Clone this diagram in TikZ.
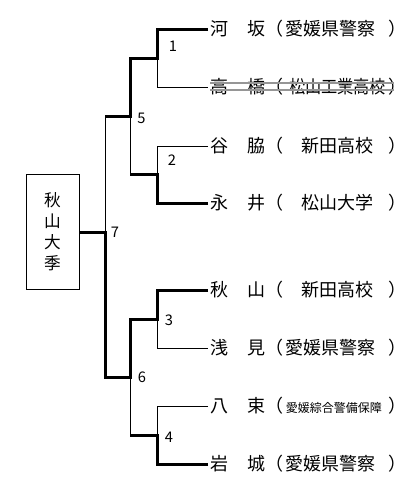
\documentclass[tikz,border=0pt]{standalone}
\usepackage{fontspec}
\usepackage{graphicx}
\newfontfamily\cjk{Noto Sans CJK JP}
\newdimen\pu \pu=0.75pt
\newcommand\entry[4]{\makebox[38\pu][l]{#1}\makebox[18\pu][l]{#2}\makebox[18\pu][l]{（}\makebox[105\pu][l]{\hspace*{#3\pu}#4}）}
\definecolor{strikegray}{RGB}{150,150,150}
\tikzset{
  win/.style={line width=2.25pt},
  lose/.style={line width=0.75pt},
  player/.style={anchor=west, inner xsep=1.5pt, inner ysep=0pt, outer sep=0pt, font=\cjk\fontsize{13.5pt}{16pt}\selectfont},
  num/.style={inner sep=0pt, font=\cjk\fontsize{11pt}{12pt}\selectfont},
  champbox/.style={draw, line width=0.75pt, inner sep=0pt, minimum width=39.75pt, minimum height=86.25pt, align=center, font=\cjk\fontsize{12.5pt}{15.75pt}\selectfont},
  strike/.style={draw=strikegray, line width=1.1pt},
}
\begin{document}
\begin{tikzpicture}[x=0.75pt,y=-0.75pt]
\useasboundingbox (0,0) rectangle (407,494);
% players
\node[player] (p1) at (208,29) {\entry{河}{坂}{2}{愛媛県警察}};
\node[player] (p2) at (208,87) {\entry{高}{橋}{5}{\scalebox{0.9}[1]{松山工業高校}}};
\node[player] (p3) at (208,146) {\entry{谷}{脇}{18}{新田高校}};
\node[player] (p4) at (208,203) {\entry{永}{井}{18}{松山大学}};
\node[player] (p5) at (208,290) {\entry{秋}{山}{18}{新田高校}};
\node[player] (p6) at (208,348) {\entry{浅}{見}{2}{愛媛県警察}};
\node[player] (p7) at (208,406) {\entry{八}{束}{2}{{\fontsize{9pt}{11pt}\selectfont 愛媛綜合警備保障}}};
\node[player] (p8) at (208,464) {\entry{岩}{城}{2}{愛媛県警察}};
% champion
\node[champbox] (champ) at (52.5,232) {秋\\山\\大\\季};
% joins
\coordinate (j1) at (157,58);
\coordinate (j2) at (157,174);
\coordinate (j3) at (157,319);
\coordinate (j4) at (157,435);
\coordinate (j5) at (130,116);
\coordinate (j6) at (130,377);
\coordinate (j7) at (105,232);
% thin (losing) lines
\draw[lose] (j1) |- (p2.west);
\draw[lose] (p3.west) -| (j2);
\draw[lose] (j5) -- (j2 -| j5);
\draw[lose] (j3) |- (p6.west);
\draw[lose] (p7.west) -| (j4);
\draw[lose] (j6) -- (j4 -| j6);
\draw[lose] (j5 -| j7) -- (j7);
% thick (winning) lines
\draw[win] (p1.west) -| (j1) -- (j1 -| j5) -- (j5) -- (j5 -| j7);
\draw[win] (p4.west) -| (j2) -- (j2 -| j5);
\draw[win] (p5.west) -| (j3) -- (j3 -| j6) -- (j6) -- (j6 -| j7) -- (j7) -- (champ.east);
\draw[win] (p8.west) -| (j4) -- (j4 -| j6);
% match numbers
\node[num] (m1) at (173,46) {1};
\node[num] (m2) at (172,160) {2};
\node[num] (m3) at (169,320) {3};
\node[num] (m4) at (169,437) {4};
\node[num] (m5) at (141.5,118) {5};
\node[num] (m6) at (142,377) {6};
\node[num] (m7) at (115,232) {7};
% strike-through of withdrawn entry
\draw[strike] (210,83) -- (394,83);
\draw[strike] (210,90) -- (394,90);
\end{tikzpicture}
\end{document}
